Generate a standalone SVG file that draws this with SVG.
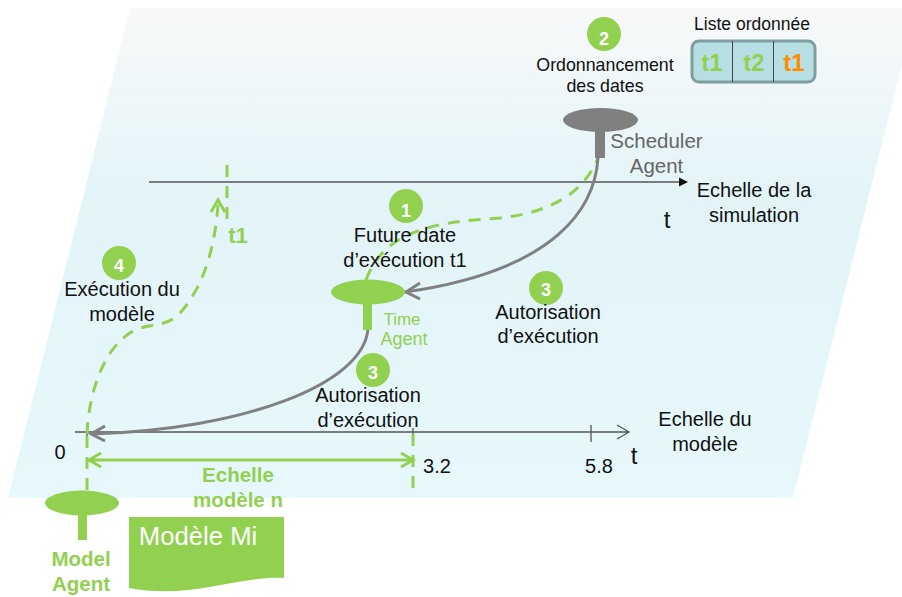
<svg xmlns="http://www.w3.org/2000/svg" width="902" height="597" viewBox="0 0 902 597">
<style>
text{font-family:"Liberation Sans",Arial,sans-serif;fill:#111;font-size:20px;text-anchor:middle}
.g{fill:#92d050}
.b{font-weight:bold;fill:#92d050}
.n{font-weight:bold;fill:#fff;font-size:18px}
.ax{fill:none;stroke:#555;stroke-width:1.3}
.gr{fill:none;stroke:#808080;stroke-width:3}
.da{fill:none;stroke:#92d050;stroke-width:3;stroke-dasharray:12 9}
.so{fill:none;stroke:#92d050;stroke-width:3}
</style>
<defs>
<linearGradient id="bg" x1="0" y1="0" x2="0" y2="1">
<stop offset="0" stop-color="#f8f9f9"/><stop offset="0.4" stop-color="#e2f4f8"/><stop offset="1" stop-color="#e7f8fc"/>
</linearGradient>
</defs>
<polygon id="plan" points="130,8 916,8 793,498 8,498" fill="url(#bg)"/>
<g id="connectors">
<path class="ax" d="M149,182H680"/>
<path d="M679,177.500L688,182L679,186.500Z" fill="#111"/>
<path class="ax" d="M75,432H628M617,425L629,432L617,439M87,424V438M413,428V442M591,425V442"/>
<path class="da" d="M227,165V222"/>
<path class="da" d="M87,434C89,390 105,345 135,330C155,322 165,328 180,313C205,285 215,245 218,205"/>
<path class="so" d="M211,212L218,200L225,212"/>
<path class="da" d="M87,436V495"/>
<path class="da" d="M413,434V492"/>
<path class="so" d="M90,460H411M101,453L89,460L101,467M401,453L413,460L401,467"/>
<path class="da" d="M366,280C385,228 440,222 500,218C555,212 585,190 598,158"/>
<path class="gr" d="M598,158C595,205 560,270 405,292"/>
<path class="gr" d="M420,283L406,292L420,299"/>
<path class="gr" d="M368,328C365,385 240,430 92,434"/>
<path class="gr" d="M105,426L91,434L105,441"/>
</g>
<g id="scheduler-agent">
<ellipse cx="600.500" cy="120" rx="37.500" ry="12" fill="#808080"/>
<rect x="595" y="130" width="10" height="28" fill="#808080"/>
<text x="656.500" y="148" style="fill:#666;font-size:20.500px">Scheduler</text>
<text x="656.500" y="173" style="fill:#666;font-size:20.500px">Agent</text>
</g>
<g id="time-agent">
<ellipse cx="368" cy="292" rx="37" ry="12.500" class="g"/>
<rect x="363" y="302" width="9" height="28" class="g"/>
<text x="402" y="325" style="fill:#92d050;font-size:17px">Time</text>
<text x="404" y="345" style="fill:#92d050;font-size:18px">Agent</text>
</g>
<g id="model-agent">
<ellipse cx="82" cy="503" rx="37" ry="12.500" class="g"/>
<rect x="78" y="514" width="9" height="26" class="g"/>
<text x="81" y="566" class="b" style="font-size:20.500px">Model</text>
<text x="81" y="591" class="b" style="font-size:20.500px">Agent</text>
</g>
<g id="modele-mi">
<path d="M129,517H284V578C240,575 190,600 129,588Z" class="g"/>
<text x="198" y="545" style="fill:#fff;font-size:25.700px">Modèle Mi</text>
</g>
<g id="liste">
<text x="752" y="30" style="font-size:17.500px">Liste ordonnée</text>
<rect x="692" y="41" width="123" height="41" rx="7" fill="#b7dfe3" stroke="#7f9ea0" stroke-width="3"/>
<path d="M732.500,41V82M773.500,41V82" stroke="#444" stroke-width="1"/>
<text x="712" y="71" class="b" style="font-size:24px">t1</text>
<text x="754" y="71" class="b" style="font-size:24px">t2</text>
<text x="794" y="71" style="font-weight:bold;fill:#ff8c00;font-size:24px">t1</text>
</g>
<g id="step-2">
<circle cx="604" cy="34" r="17" class="g"/>
<text x="604" y="45" class="n">2</text>
<text x="605" y="71" style="font-size:17.800px">Ordonnancement</text>
<text x="605" y="92" style="font-size:17.800px">des dates</text>
</g>
<g id="step-1">
<circle cx="406" cy="206" r="17" class="g"/>
<text x="406" y="217" class="n">1</text>
<text x="405" y="242">Future date</text>
<text x="405" y="267">d’exécution t1</text>
</g>
<g id="step-3a">
<circle cx="546" cy="288" r="17" class="g"/>
<text x="546" y="296" class="n">3</text>
<text x="548" y="318.500">Autorisation</text>
<text x="548" y="343">d’exécution</text>
</g>
<g id="step-3b">
<circle cx="373" cy="370" r="17" class="g"/>
<text x="373" y="379" class="n">3</text>
<text x="368" y="402">Autorisation</text>
<text x="368" y="427">d’exécution</text>
</g>
<g id="step-4">
<circle cx="119" cy="263" r="17" class="g"/>
<text x="119" y="272" class="n">4</text>
<text x="122" y="295.500">Exécution du</text>
<text x="122" y="321">modèle</text>
</g>
<g id="labels">
<text x="754" y="197">Echelle de la</text>
<text x="754" y="222">simulation</text>
<text x="667" y="228" style="font-size:24px">t</text>
<text x="238" y="243" class="b" style="font-size:22px">t1</text>
<text x="705" y="426">Echelle du</text>
<text x="705" y="451">modèle</text>
<text x="634" y="464" style="font-size:24px">t</text>
<text x="60" y="459">0</text>
<text x="437" y="473">3.2</text>
<text x="599" y="473">5.8</text>
<text x="238" y="482" class="b" style="font-size:20.500px">Echelle</text>
<text x="238" y="507" class="b" style="font-size:20.500px">modèle n</text>
</g>
</svg>
